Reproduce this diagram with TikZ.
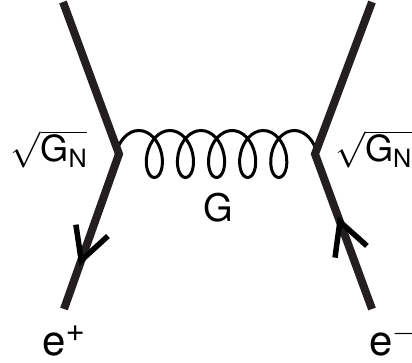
\RequirePackage{fix-cm}
\documentclass[tikz,border=0pt]{standalone}
\usepackage{amsmath}
\usepackage{fontspec}
\setmainfont{TeX Gyre Heros}
\usetikzlibrary{decorations.pathmorphing,decorations.markings}
\definecolor{ink}{RGB}{35,31,32}

\begin{document}
\begin{tikzpicture}[x = 1pt, y = 1pt,
  fermion/.style = {line width = 8pt, draw = ink},
  graviton/.style = {line width = 3pt, decorate, decoration = {coil, amplitude = 23.5pt, aspect = 0.64, segment length = 31.1pt}},
  flow/.style = {postaction = {decorate}, decoration = {markings, mark = at position #1 with {\draw[line width = 5.5pt, black] (-32pt,17pt) -- (0pt,0pt) -- (-32pt,-17pt);}}},
  lbl/.style = {inner sep = 0pt, font = \fontsize{36}{40}\selectfont},
  elbl/.style = {inner sep = 0pt, anchor = base west, font = \fontsize{42}{44}\selectfont}]
\useasboundingbox (0,0) rectangle (412,362);
\clip (0,0) rectangle (412,362);
\coordinate (v1) at (119,208);
\coordinate (v2) at (315,208);
\coordinate (in1) at (63,360);
\coordinate (out1) at (64,53);
\coordinate (in2) at (372,360);
\coordinate (out2) at (372,53);
\draw[graviton] ([xshift = -3pt]v1) -- ([xshift = 3pt]v2);
\draw[fermion, flow = 275pt] (in1) -- (v1) -- (out1);
\draw[fermion, flow = 93pt] (out2) -- (v2) -- (in2);
\node[lbl, font = \fontsize{38}{40}\selectfont] (glab) at (218,154) {G};
\node[lbl] (coup1) at (49,213) {$\sqrt{\text{G}_\text{N}}$};
\node[lbl, anchor = west] (coup2) at (335,213) {$\sqrt{\text{G}_\text{N}}$};
\node[elbl] (eplus) at (42,7) {e\raisebox{14pt}{\fontsize{33}{36}\selectfont +}};
\node[elbl] (eminus) at (369,7) {e\raisebox{14pt}{\fontsize{30}{36}\selectfont $-$}};
\end{tikzpicture}
\end{document}
